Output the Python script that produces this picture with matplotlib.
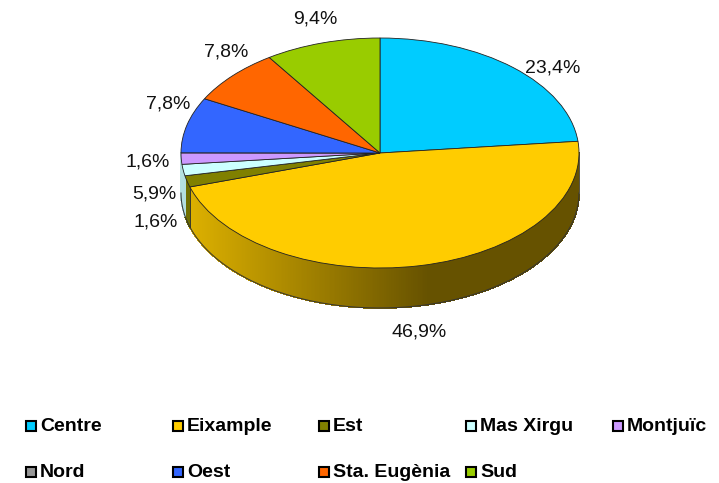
import numpy as np
import matplotlib
matplotlib.use("Agg")
import matplotlib.pyplot as plt
from matplotlib.collections import PolyCollection
from matplotlib.patches import Rectangle
from matplotlib.transforms import Affine2D

plt.rcParams['font.family'] = ['Liberation Sans', 'DejaVu Sans']

categories = ["Centre", "Eixample", "Est", "Mas Xirgu", "Montjuïc", "Nord", "Oest", "Sta. Eugènia", "Sud"]
values = [23.4, 46.9, 1.6, 1.6, 1.6, 0.0, 7.8, 7.8, 9.4]
colors = ["#00CCFF", "#FFCC00", "#808000", "#CCFFFF", "#CC99FF", "#969696", "#3366FF", "#FF6600", "#99CC00"]
value_labels = ["23,4%", "46,9%", "1,6%", "5,9%", "1,6%", "7,8%", "7,8%", "9,4%"]
label_pos = [(553, 68), (419, 332), (156, 222), (154, 194), (148, 162), (168, 104), (226, 52), (315, 19)]
legend_pos = [(26, 421), (173, 421), (319, 421), (466, 421), (613, 421),
              (26, 467), (173, 467), (319, 467), (466, 467)]

W, H = 719, 483
CX, CY, RX, RY, DEPTH = 380, 153, 199, 115, 40

fig = plt.figure(figsize=(W / 100, H / 100), dpi=100)
ax = fig.add_axes([0, 0, 1, 1])
ax.set_xlim(-CX / RX, (W - CX) / RX)
ax.set_ylim(-(H - CY) / RY, CY / RY)
ax.axis("off")
px = Affine2D().scale(1 / W, -1 / H).translate(0, 1) + fig.transFigure

d = DEPTH / RY
vals = np.array(values)
edges = np.concatenate([[0], np.cumsum(vals / vals.sum())]) * 360


def shade(x):
    return np.interp(x, [-1.0, 0.24, 1.0], [0.88, 0.40, 0.40])


polys, faces = [], []
for i, col in enumerate(colors):
    if categories[i] == "Montjuïc":  # its side is too thin to show in the reference
        continue
    a0 = max(edges[i], 90)
    a1 = 270 if categories[i] == "Mas Xirgu" else min(edges[i + 1], 270)
    if a1 <= a0:
        continue
    t = np.radians(np.linspace(a0, a1, max(int((a1 - a0) * 2), 2) + 1))
    base = np.array(matplotlib.colors.to_rgb(col))
    for t0, t1 in zip(t[:-1], t[1:]):
        x0, x1, y0, y1 = np.sin(t0), np.sin(t1), np.cos(t0), np.cos(t1)
        polys.append([(x0, y0), (x1, y1), (x1, y1 - d), (x0, y0 - d)])
        faces.append(tuple(base * shade((x0 + x1) / 2)))
ax.add_collection(PolyCollection(polys, facecolors=faces, edgecolors=faces, linewidths=0.6,
                                 antialiaseds=False, zorder=1))

# side outline and slice boundaries
tt = np.radians(np.linspace(90, 270, 400))
ax.plot(np.sin(tt), np.cos(tt) - d, color="#333333", lw=0.7, zorder=2)
ax.plot([1, 1], [0, -d], color="#555555", lw=0.6, zorder=2)
r = np.radians(edges[2])
ax.plot([np.sin(r)] * 2, [np.cos(r), np.cos(r) - d], color="#333333", lw=0.6, zorder=2)

wedges, _ = ax.pie(values, colors=colors, startangle=90, counterclock=False, radius=1,
                   wedgeprops=dict(edgecolor="#222222", linewidth=0.6, zorder=3), frame=False)
ax.set_xlim(-CX / RX, (W - CX) / RX)
ax.set_ylim(-(H - CY) / RY, CY / RY)
ax.set_aspect("auto")

for s, (x, y) in zip(value_labels, label_pos):
    ax.text(x, y, s, transform=px, ha="center", va="center", fontsize=14, color="#111111", zorder=5)

for name, col, (x, y) in zip(categories, colors, legend_pos):
    fig.add_artist(Rectangle((x, y), 10, 10, transform=px, facecolor=col, edgecolor="black", linewidth=1.5))
    fig.text(x + 14, y + 5.5, name, transform=px, ha="left", va="center", fontsize=14, fontweight="bold", color="black")

fig.savefig("out.png", dpi=100)
